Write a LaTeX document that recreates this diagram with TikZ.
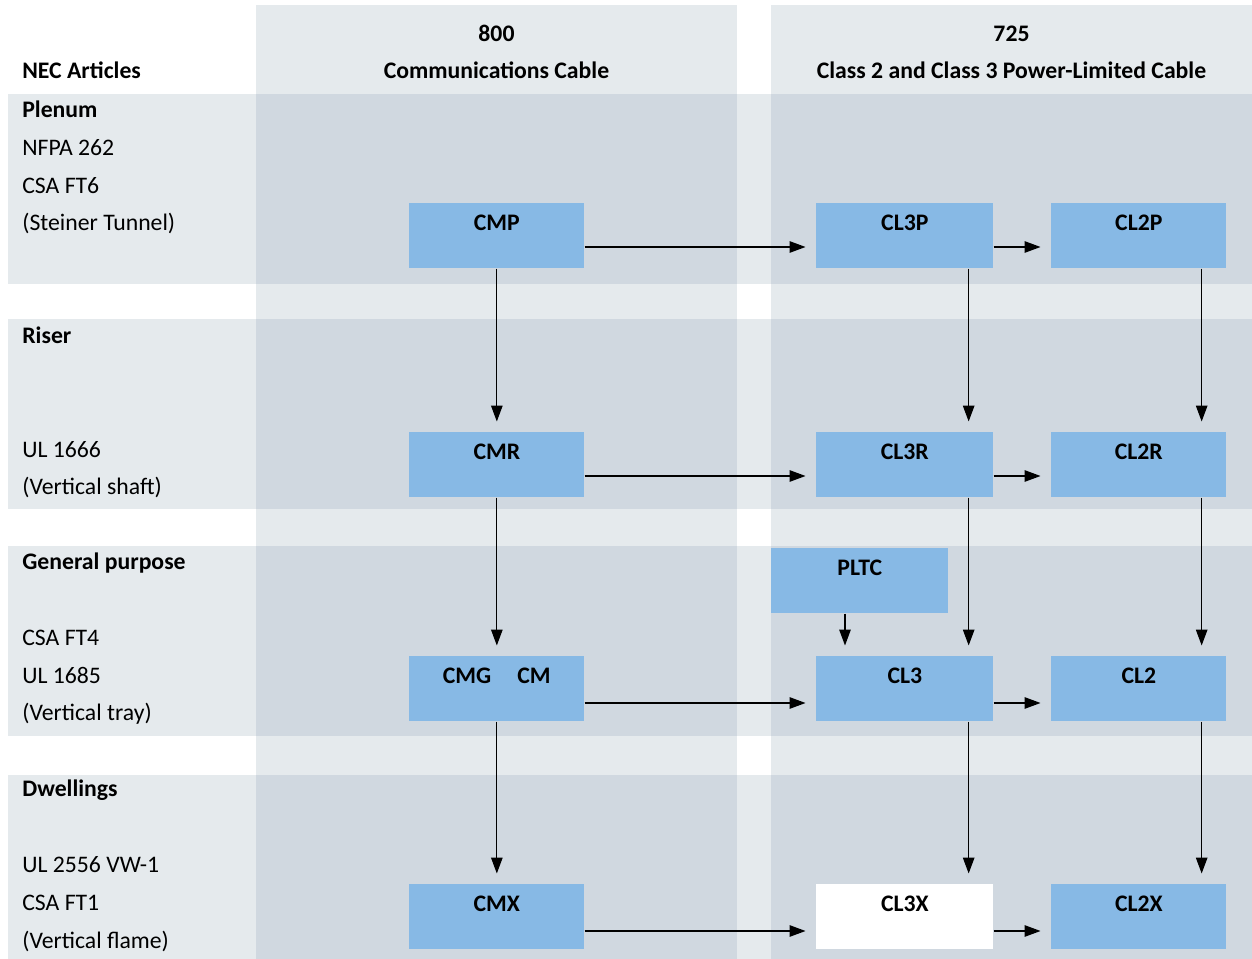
\documentclass[tikz,border=0pt]{standalone}
\usepackage{fontspec}
\setmainfont{Carlito}
\usetikzlibrary{arrows.meta,positioning,calc}
\definecolor{bandlight}{HTML}{E5EAED}
\definecolor{banddark}{HTML}{D0D8E0}
\definecolor{cableblue}{HTML}{87B9E5}

\begin{document}
\begin{tikzpicture}[x=0.02cm, y=-0.02cm,
      cable/.style={fill=cableblue, anchor=north west, minimum width=3.5cm,
        minimum height=1.3cm, inner sep=0pt, text height=9pt, text depth=15pt,
        font=\fontsize{13.5}{16}\selectfont\bfseries},
      rowtext/.style={anchor=base west, align=left, inner sep=0pt,
        font=\fontsize{13.5}{21.5}\selectfont},
      head/.style={anchor=base, inner sep=0pt,
        font=\fontsize{13.5}{16}\selectfont\bfseries},
      arrowstyle/.style={-{Triangle[length=9pt,width=6.5pt]}, line width=0.7pt,
        shorten >=0.21cm}
    ]
    \useasboundingbox (0,0) rectangle (1252,959);
    \fill[white] (0,0) rectangle (1252,959);

    % Bands: columns, rows, then where they cross
    \fill[bandlight] (256,5) rectangle (737,959);
    \fill[bandlight] (771,5) rectangle (1252,959);
    \fill[bandlight] (8,94) rectangle (1252,284);
    \fill[bandlight] (8,319) rectangle (1252,509);
    \fill[bandlight] (8,546) rectangle (1252,736);
    \fill[bandlight] (8,775) rectangle (1252,959);
    \fill[banddark] (256,94) rectangle (737,284);
    \fill[banddark] (771,94) rectangle (1252,284);
    \fill[banddark] (256,319) rectangle (737,509);
    \fill[banddark] (771,319) rectangle (1252,509);
    \fill[banddark] (256,546) rectangle (737,736);
    \fill[banddark] (771,546) rectangle (1252,736);
    \fill[banddark] (256,775) rectangle (737,959);
    \fill[banddark] (771,775) rectangle (1252,959);

    % Headings
    \node[head, anchor=base west] (nec) at (22,79) {NEC Articles};
    \node[head] (art800) at (496.5,42) {800};
    \node[head] (comm) at (496.5,79) {Communications Cable};
    \node[head] (art725) at (1011.5,42) {725};
    \node[head] (power) at (1011.5,79) {Class 2 and Class 3 Power-Limited Cable};

    % Row texts (placed by their last line)
    \node[rowtext] (plenum) at (22,231)
      {\textbf{Plenum}\\NFPA 262\\CSA FT6\\(Steiner Tunnel)};
    \node[rowtext] (riser) at (22,495)
      {\textbf{Riser}\\~\\~\\UL 1666\\(Vertical shaft)};
    \node[rowtext] (general) at (22,721)
      {\textbf{General purpose}\\~\\CSA FT4\\UL 1685\\(Vertical tray)};
    \node[rowtext] (dwell) at (22,948)
      {\textbf{Dwellings}\\~\\UL 2556 VW-1\\CSA FT1\\(Vertical flame)};

    % Cable types
    \node[cable] (cmp) at (409,203) {CMP};
    \node[cable, minimum width=3.54cm] (cl3p) at (816,203) {CL3P};
    \node[cable] (cl2p) at (1051,203) {CL2P};

    \node[cable] (cmr) at (409,432) {CMR};
    \node[cable, minimum width=3.54cm] (cl3r) at (816,432) {CL3R};
    \node[cable] (cl2r) at (1051,432) {CL2R};

    \node[cable, minimum width=3.54cm] (pltc) at (771,548) {PLTC};
    \node[cable] (cmg) at (409,656) {CMG\hspace{1.1em}CM};
    \node[cable, minimum width=3.54cm] (cl3) at (816,656) {CL3};
    \node[cable] (cl2) at (1051,656) {CL2};

    \node[cable] (cmx) at (409,884) {CMX};
    \node[cable, minimum width=3.54cm, fill=white] (cl3x) at (816,884) {CL3X};
    \node[cable] (cl2x) at (1051,884) {CL2X};

    % Arrows across
    \draw[arrowstyle] ($(cmp.north east)+(0,44)$) -- ($(cl3p.north west)+(0,44)$);
    \draw[arrowstyle] ($(cl3p.north east)+(0,44)$) -- ($(cl2p.north west)+(0,44)$);
    \draw[arrowstyle] ($(cmr.north east)+(0,44)$) -- ($(cl3r.north west)+(0,44)$);
    \draw[arrowstyle] ($(cl3r.north east)+(0,44)$) -- ($(cl2r.north west)+(0,44)$);
    \draw[arrowstyle] ($(cmg.north east)+(0,47)$) -- ($(cl3.north west)+(0,47)$);
    \draw[arrowstyle] ($(cl3.north east)+(0,47)$) -- ($(cl2.north west)+(0,47)$);
    \draw[arrowstyle] ($(cmx.north east)+(0,47)$) -- ($(cl3x.north west)+(0,47)$);
    \draw[arrowstyle] ($(cl3x.north east)+(0,47)$) -- ($(cl2x.north west)+(0,47)$);

    % Arrows down
    \draw[arrowstyle] (cmp.south) -- (cmr.north);
    \draw[arrowstyle] (cmr.south) -- (cmg.north);
    \draw[arrowstyle] (cmg.south) -- (cmx.north);
    \draw[arrowstyle] ($(cl3p.south east)+(-25,0)$) -- ($(cl3r.north east)+(-25,0)$);
    \draw[arrowstyle] ($(cl3r.south east)+(-25,0)$) -- ($(cl3.north east)+(-25,0)$);
    \draw[arrowstyle] ($(cl3.south east)+(-25,0)$) -- ($(cl3x.north east)+(-25,0)$);
    \draw[arrowstyle] ($(cl2p.south east)+(-25,0)$) -- ($(cl2r.north east)+(-25,0)$);
    \draw[arrowstyle] ($(cl2r.south east)+(-25,0)$) -- ($(cl2.north east)+(-25,0)$);
    \draw[arrowstyle] ($(cl2.south east)+(-25,0)$) -- ($(cl2x.north east)+(-25,0)$);
    \draw[arrowstyle] ($(pltc.south west)+(74,0)$) -- ($(cl3.north west)+(29,0)$);
  \end{tikzpicture}
\end{document}
